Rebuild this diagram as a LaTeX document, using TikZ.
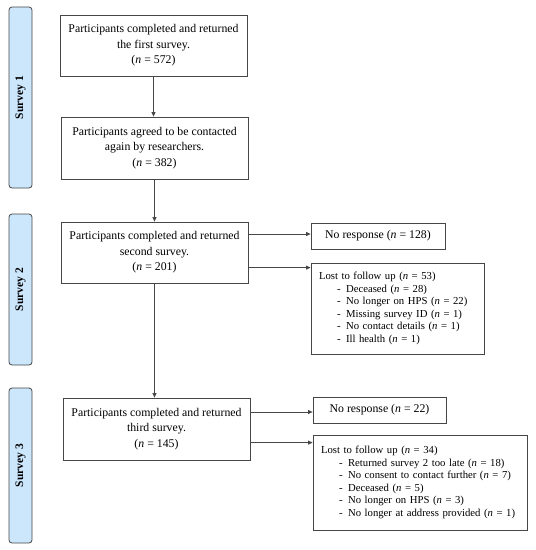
\documentclass[tikz,border=0pt]{standalone}
\usepackage{fontspec}
\setmainfont{Liberation Serif}
\usetikzlibrary{arrows.meta}

\definecolor{sidefill}{RGB}{204,230,252}
\definecolor{linegray}{RGB}{70,70,70}
\newcommand{\nn}{\textit{n}}
\newcommand{\lostitem}[1]{\\\hspace*{18pt}-\hspace*{5.5pt}#1}

\tikzset{
	mainbox/.style = {draw=linegray, line width=0.8pt, minimum width=187pt, minimum height=61pt, align=center, font=\fontsize{11.8}{15.5}\selectfont, inner sep=0pt},
	sidebar/.style = {draw=linegray, line width=0.8pt, fill=sidefill, rounded corners=3pt, minimum height=23pt, rotate=90, font=\fontsize{11.5}{12}\selectfont\bfseries, inner sep=0pt},
	outbox/.style = {draw=linegray, line width=0.8pt, align=left, font=\fontsize{10.7}{12.5}\selectfont, inner sep=0pt},
	flow/.style = {draw=linegray, line width=0.8pt, -{Triangle[length=4.5pt, width=4pt]}}
}

\begin{document}
\begin{tikzpicture}[x=1pt, y=-1pt]
	\useasboundingbox (0,0) rectangle (536,550);
	\node[sidebar, minimum width=181pt] (s1) at (20.5,97.5) {Survey 1};
	\node[sidebar, minimum width=151pt] (s2) at (20.5,289.5) {Survey 2};
	\node[sidebar, minimum width=155pt] (s3) at (20.5,465.5) {Survey 3};
	\node[mainbox] (first) at (153.5,45.5) {Participants completed and returned\\the first survey.\\(\nn{} = 572)};
	\node[mainbox, minimum height=62pt] (agreed) at (154.5,148) {Participants agreed to be contacted\\again by researchers.\\(\nn{} = 382)};
	\node[mainbox] (second) at (154.5,252.5) {Participants completed and returned\\second survey.\\(\nn{} = 201)};
	\node[mainbox, minimum height=62pt] (third) at (156.5,429) {Participants completed and returned\\third survey.\\(\nn{} = 145)};
	\node[outbox, minimum width=134pt, minimum height=26pt, align=center, font=\fontsize{11.8}{14}\selectfont] (noresp1) at (378,236) {No response (\nn{} = 128)};
	\node[outbox, minimum width=173pt, minimum height=91pt, text width=157pt] (lost1) at (397.5,308.5) {Lost to follow up (\nn{} = 53)\lostitem{Deceased (\nn{} = 28)}\lostitem{No longer on HPS (\nn{} = 22)}\lostitem{Missing survey ID (\nn{} = 1)}\lostitem{No contact details (\nn{} = 1)}\lostitem{Ill health (\nn{} = 1)}};
	\node[outbox, minimum width=133pt, minimum height=26pt, align=center, font=\fontsize{11.8}{14}\selectfont] (noresp2) at (379.5,410) {No response (\nn{} = 22)};
	\node[outbox, minimum width=214pt, minimum height=95pt, text width=198pt] (lost2) at (420,482.5) {Lost to follow up (\nn{} = 34)\lostitem{Returned survey 2 too late (\nn{} = 18)}\lostitem{No consent to contact further (\nn{} = 7)}\lostitem{Deceased (\nn{} = 5)}\lostitem{No longer on HPS (\nn{} = 3)}\lostitem{No longer at address provided (\nn{} = 1)}};
	\coordinate (l1) at ([yshift=-5pt]lost1.north west);
	\coordinate (l2) at ([yshift=-8pt]lost2.north west);
	\draw[flow] (first.south) -- (first.south |- agreed.north);
	\draw[flow] (agreed.south) -- (agreed.south |- second.north);
	\draw[flow] (second.south) -- (second.south |- third.north);
	\draw[flow] ([yshift=2pt]second.east |- noresp1.west) -- ([yshift=2pt]noresp1.west);
	\draw[flow] (second.east |- l1) -- (l1);
	\draw[flow] ([yshift=-2pt]third.east |- noresp2.west) -- ([yshift=-2pt]noresp2.west);
	\draw[flow] (third.east |- l2) -- (l2);
\end{tikzpicture}
\end{document}
